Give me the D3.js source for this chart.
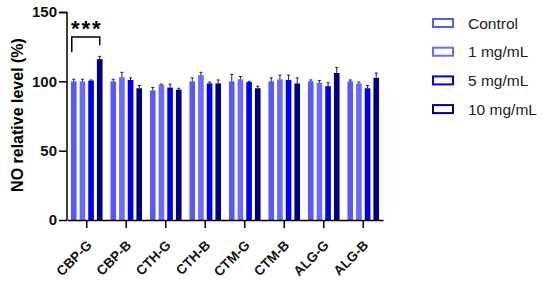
<!DOCTYPE html>
<html>
<head>
<meta charset="utf-8">
<script src="https://cdn.jsdelivr.net/npm/d3@7"></script>
<style>
  body { margin: 0; background: #fff; }
  svg { font-family: Arial, "Liberation Sans", sans-serif; }
  .axis path, .axis line { stroke: #000; stroke-width: 1.5px; }
  .axis text { font-size: 15px; font-weight: bold; fill: #111; }
</style>
</head>
<body>
<div class="no-chart"></div>
<script>
// data
var samples = ["CBP-G", "CBP-B", "CTH-G", "CTH-B", "CTM-G", "CTM-B", "ALG-G", "ALG-B"];
var doses = ["Control", "1 mg/mL", "5 mg/mL", "10 mg/mL"];
var colors = ["#5a5af0", "#6a6afc", "#0000e8", "#000078"];
var yTicks = [0, 50, 100, 150];

var control = [100, 100, 93.5, 100, 100, 100, 100, 100];
var dose1 = [100, 103, 97.5, 104.5, 101.5, 101.5, 99, 98.5];
var dose5 = [100.5, 101, 95.5, 98.5, 99.5, 101, 96.5, 95];
var dose10 = [116, 95, 94, 98.5, 95, 98.5, 106, 102.5];

var errControl = [1.5, 1.5, 2, 2.5, 5, 2.5, 1, 1];
var errDose1 = [1.5, 3.5, 0.5, 2, 2, 3, 1.5, 1];
var errDose5 = [0.5, 1.5, 2.5, 1, 0.5, 3.5, 2.5, 2];
var errDose10 = [2, 2, 1, 2.5, 1.5, 4, 4, 3.5];

var series = [control, dose1, dose5, dose10];
var errors = [errControl, errDose1, errDose5, errDose10];

var margin = {top: 12, right: 167, bottom: 61, left: 67},
    width = 550 - margin.left - margin.right,
    height = 281 - margin.top - margin.bottom;

var x0 = d3.scaleBand().domain(samples).range([0, width]).paddingInner(0.2).paddingOuter(0.1);
var x1 = d3.scaleBand().domain(d3.range(doses.length)).range([0, x0.bandwidth()]).paddingInner(0.35);
var y = d3.scaleLinear().domain([0, 150]).range([height, 0]);

var svg = d3.select(".no-chart").append("svg")
    .attr("width", 550)
    .attr("height", 281)
  .append("g")
    .attr("transform", `translate(${margin.left}, ${margin.top})`);

// bars
var groups = svg.selectAll(".grp")
    .data(samples)
  .enter().append("g")
    .attr("transform", function(d) { return `translate(${x0(d)}, 0)`; });

groups.each(function(s, i) {
    var g = d3.select(this);
    doses.forEach(function(dose, j) {
        var v = series[j][i], e = errors[j][i];
        var bx = x1(j), bw = x1.bandwidth();
        g.append("rect")
            .attr("x", bx)
            .attr("y", y(v))
            .attr("width", bw)
            .attr("height", height - y(v))
            .style("fill", colors[j]);
        // error bar (upper only)
        var cx = bx + bw / 2;
        g.append("line")
            .attr("x1", cx).attr("x2", cx)
            .attr("y1", y(v)).attr("y2", y(v + e))
            .style("stroke", "#222").style("stroke-width", 1);
        g.append("line")
            .attr("x1", cx - 1.5).attr("x2", cx + 1.5)
            .attr("y1", y(v + e)).attr("y2", y(v + e))
            .style("stroke", "#222").style("stroke-width", 1);
    });
});

// y axis
svg.append("g")
    .attr("class", "axis")
    .call(d3.axisLeft(y).tickValues(yTicks).tickSize(8).tickPadding(2))
    .call(function(g) { g.select(".domain").attr("d", `M-8,0.5H0V${height}`); });

svg.append("text")
    .attr("transform", "rotate(-90)")
    .attr("x", 0 - height / 2 + 1)
    .attr("y", 0 - margin.left + 23)
    .style("text-anchor", "middle")
    .style("font-size", "16px")
    .style("font-weight", "bold")
    .text("NO relative level (%)");

// x axis, labels drawn by hand so the rotation is explicit
var xAxis = svg.append("g")
    .attr("class", "axis")
    .attr("transform", `translate(0, ${height})`)
    .call(d3.axisBottom(x0).tickSize(8).tickSizeOuter(0).tickFormat(""));
svg.append("g")
    .selectAll("text")
    .data(samples)
  .enter().append("text")
    .attr("transform", function(d) {
        return `translate(${x0(d) + x0.bandwidth() / 2 + 6}, ${height + 26}) rotate(-45)`;
    })
    .style("text-anchor", "end")
    .style("font-size", "13.5px")
    .style("font-weight", "bold")
    .style("fill", "#111")
    .text(function(d) { return d; });

// significance bracket on CBP-G
var bxStart = x0(samples[0]) + x1(0) + x1.bandwidth() / 2 - 2;
var bxEnd = x0(samples[0]) + x1(3) + x1.bandwidth() / 2;
svg.append("path")
    .attr("d", `M${bxStart},${y(121)}V${y(132)}H${bxEnd}V${y(126)}`)
    .style("fill", "none")
    .style("stroke", "#000")
    .style("stroke-width", 1.5);
svg.append("text")
    .attr("x", (bxStart + bxEnd) / 2 + 1)
    .attr("y", y(132) - 1)
    .style("text-anchor", "middle")
    .style("font-size", "22px")
    .style("font-weight", "bold")
    .style("letter-spacing", "2px")
    .text("***");

// legend
var legend = svg.append("g")
    .attr("transform", `translate(${width + 50}, 0)`);
doses.forEach(function(d, i) {
    var row = legend.append("g").attr("transform", `translate(0, ${11 + i * 28.7})`);
    row.append("rect")
        .attr("x", 0).attr("y", -4)
        .attr("width", 20).attr("height", 8)
        .style("fill", "#fff")
        .style("stroke", colors[i])
        .style("stroke-width", 2);
    row.append("text")
        .attr("x", 35)
        .attr("y", 5.5)
        .style("font-size", "15.5px")
        .style("fill", "#222")
        .text(d);
});
</script>
</body>
</html>
